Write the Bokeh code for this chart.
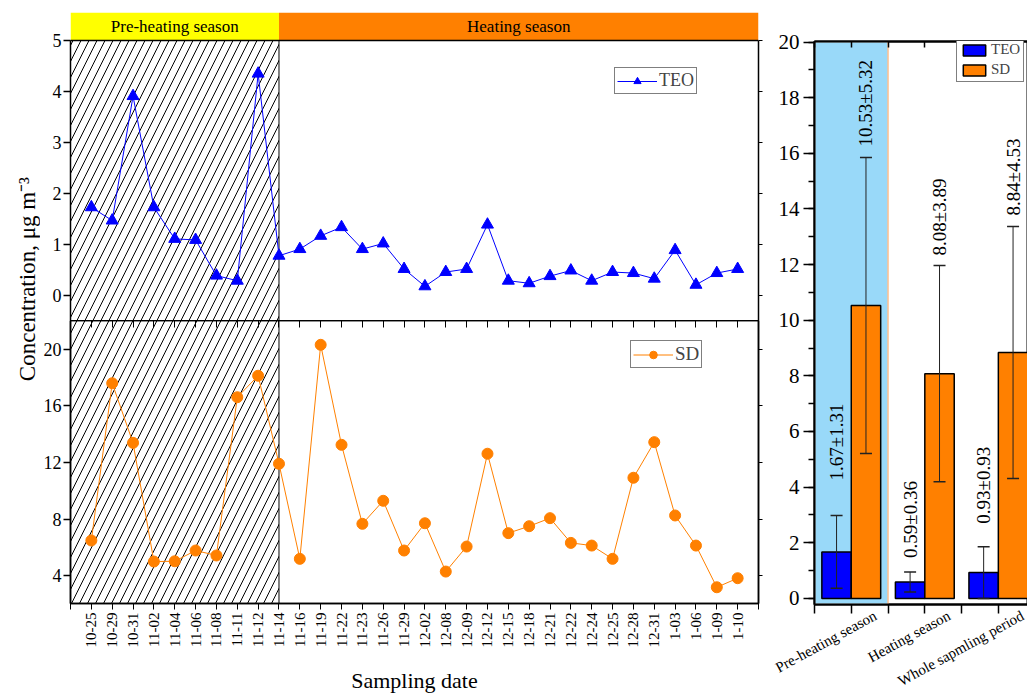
import math
from bokeh.plotting import figure
from bokeh.models import (ColumnDataSource, FixedTicker, Legend, LegendItem, Range1d,
                          LinearAxis, Whisker, TeeHead, SingleIntervalTicker, Span)
from bokeh.layouts import row, column
from bokeh.core.properties import value
from bokeh.embed import file_html
from bokeh.resources import INLINE

FONT = "Liberation Serif"

# ---------------- data ----------------
dates = ["10-25", "10-29", "10-31", "11-02", "11-04", "11-06", "11-08", "11-11", "11-12", "11-14",
         "11-16", "11-19", "11-22", "11-23", "11-26", "11-29", "12-02", "12-08", "12-09", "12-12",
         "12-15", "12-18", "12-21", "12-22", "12-24", "12-25", "12-28", "12-31", "1-03", "1-06",
         "1-09", "1-10"]
teo = [1.73, 1.47, 3.91, 1.73, 1.11, 1.09, 0.39, 0.29, 4.35, 0.78,
       0.91, 1.17, 1.34, 0.91, 1.02, 0.52, 0.18, 0.46, 0.52, 1.39,
       0.29, 0.24, 0.38, 0.49, 0.29, 0.46, 0.44, 0.33, 0.89, 0.21,
       0.44, 0.52]
sd = [6.48, 17.61, 13.39, 4.99, 5.01, 5.77, 5.42, 16.62, 18.14, 11.91,
      5.18, 20.33, 13.25, 7.66, 9.29, 5.77, 7.70, 4.28, 6.05, 12.62,
      7.00, 7.49, 8.06, 6.31, 6.12, 5.18, 10.92, 13.44, 8.25, 6.12,
      3.17, 3.81]
n_pre = 10  # samples in pre-heating season (10-25 .. 11-14)
season_names = ["Pre-heating season", "Heating season"]

periods = ["Pre-heating season", "Heating season", "Whole sapmling period"]
teo_mean = [1.67, 0.59, 0.93]
teo_std = [1.31, 0.36, 0.93]
sd_mean = [10.53, 8.08, 8.84]
sd_std = [5.32, 3.89, 4.53]

teo_ticks = [0, 1, 2, 3, 4, 5]
sd_ticks = [4, 8, 12, 16, 20]

# ---------------- styles ----------------
BLUE = "#0000FF"
ORANGE = "#FF8000"
YELLOW = "#FFFF00"
SKY = "#99D9F9"
label_gap_teo = [35, 14, 23]
label_gap_sd = [11, 10, 11]

idx = list(range(len(dates)))
X0, X1 = -1, len(dates)
boundary = n_pre - 1
FW = 688
BL, BR = 29, 8
HATCH = 16


def blank(ticks):
    return {t: "" for t in ticks}


def base_fig(**kw):
    p = figure(toolbar_location=None, output_backend="svg", **kw)
    p.xgrid.visible = False
    p.ygrid.visible = False
    p.background_fill_color = "white"
    p.border_fill_color = "white"
    return p


def style_left(ax, ticks, lo, hi):
    ax.ticker = FixedTicker(ticks=ticks)
    ax.bounds = (lo, hi)
    ax.major_tick_out = 7
    ax.major_tick_in = 0
    ax.minor_tick_out = 0
    ax.minor_tick_in = 0
    ax.major_label_text_font = FONT
    ax.major_label_text_font_size = "18px"
    ax.major_label_text_color = "black"
    ax.major_label_standoff = 2
    ax.axis_line_width = 1.5
    ax.major_tick_line_width = 1.5


xr = Range1d(X0, X1)
all_x_ticks = list(range(X0, X1 + 1))

# ---------------- y label column ----------------
lab = base_fig(width=40, height=693, x_range=Range1d(0, 40), y_range=Range1d(0, 693),
               min_border=0, x_axis_location=None, y_axis_location=None, outline_line_color=None)
lab.text(x=[27], y=[401], text=["Concentration,  \u03bcg m\u207b\u00b3"], angle=math.pi / 2,
         text_align="center", text_baseline="middle", text_font=value(FONT),
         text_font_size="23px", text_color="black")

# ---------------- top panel (TEO) with season header ----------------
TY0, TY1 = -0.49, 5
HTOP = TY1 + 28 / 51.0  # header band height above the plot area
top = base_fig(frame_width=FW, frame_height=308, x_range=xr, y_range=Range1d(TY0, HTOP),
               min_border_left=BL, min_border_right=BR, min_border_top=12, min_border_bottom=0,
               x_axis_location=None, y_axis_location="left", outline_line_color=None)
top.quad(left=[X0, boundary], right=[boundary, X1], bottom=TY1, top=HTOP,
         fill_color=[YELLOW, ORANGE], line_color=None)
top.text(x=[(X0 + boundary) / 2, (boundary + X1) / 2], y=[(TY1 + HTOP) / 2] * 2, text=season_names,
         text_align="center", text_baseline="middle", text_font=value(FONT),
         text_font_size="17px", text_color="black")
top.quad(left=[X0], right=[boundary], bottom=[TY0], top=[TY1], fill_alpha=0,
         hatch_pattern="/", hatch_color="black", hatch_scale=HATCH, hatch_weight=1,
         line_color="black", line_width=1)
top.add_layout(Span(location=TY1, dimension="width", line_color="black", line_width=1.5))
tl = top.line(idx, teo, line_color=BLUE, line_width=1)
ts = top.scatter(idx, teo, marker="triangle", size=12, fill_color=BLUE, line_color=BLUE)

style_left(top.yaxis[0], teo_ticks, TY0, TY1)
ra = LinearAxis(ticker=FixedTicker(ticks=teo_ticks), major_label_overrides=blank(teo_ticks),
                bounds=(TY0, TY1), major_tick_out=4, major_tick_in=0, minor_tick_out=0,
                minor_tick_in=0, major_label_standoff=0, axis_line_width=1.5)
top.add_layout(ra, "right")

leg1 = Legend(items=[LegendItem(label="TEO", renderers=[tl, ts])], location=(544, 226),
              border_line_color="black", border_line_width=1, padding=2, margin=0,
              label_text_font=FONT, label_text_font_size="18px", glyph_width=40,
              glyph_height=18, label_height=18, label_standoff=2, spacing=0,
              background_fill_alpha=1)
top.add_layout(leg1)

# ---------------- bottom panel (SD) ----------------
BY0, BY1 = 2.02, 22.05
bot = base_fig(frame_width=FW, frame_height=283, x_range=xr, y_range=Range1d(BY0, BY1),
               min_border_left=BL, min_border_right=BR, min_border_top=0, min_border_bottom=90,
               x_axis_location="below", y_axis_location="left",
               outline_line_color="black", outline_line_width=1.5)
bot.quad(left=[X0], right=[boundary], bottom=[BY0], top=[BY1], fill_alpha=0,
         hatch_pattern="/", hatch_color="black", hatch_scale=HATCH, hatch_weight=1,
         line_color="black", line_width=1)
bl = bot.line(idx, sd, line_color=ORANGE, line_width=1)
bs = bot.scatter(idx, sd, marker="circle", size=11, fill_color=ORANGE, line_color=ORANGE)

style_left(bot.yaxis[0], sd_ticks, BY0, BY1)

xa = bot.xaxis[0]
xa.ticker = FixedTicker(ticks=all_x_ticks)
overrides = {t: "" for t in all_x_ticks}
for i, d in enumerate(dates):
    overrides[i] = d
xa.major_label_overrides = overrides
xa.major_label_orientation = math.pi / 2
xa.major_label_text_font = FONT
xa.major_label_text_font_size = "15px"
xa.major_label_text_color = "black"
xa.major_label_standoff = 3
xa.major_tick_out = 6
xa.major_tick_in = 0
xa.minor_tick_out = 0
xa.minor_tick_in = 0
xa.axis_line_width = 1.5
xa.axis_label = "Sampling date"
xa.axis_label_text_font = FONT
xa.axis_label_text_font_size = "22px"
xa.axis_label_text_font_style = "normal"
xa.axis_label_text_color = "black"
xa.axis_label_standoff = 18

ra2 = LinearAxis(ticker=FixedTicker(ticks=sd_ticks), major_label_overrides=blank(sd_ticks),
                 major_tick_out=4, major_tick_in=0, minor_tick_out=0, minor_tick_in=0,
                 major_label_standoff=0, axis_line_width=1.5)
bot.add_layout(ra2, "right")
aa2 = LinearAxis(ticker=FixedTicker(ticks=all_x_ticks), major_label_overrides=blank(all_x_ticks),
                 major_tick_out=0, major_tick_in=7, minor_tick_out=0, minor_tick_in=0,
                 major_label_standoff=0, axis_line_width=1.5)
bot.add_layout(aa2, "above")

leg2 = Legend(items=[LegendItem(label="SD", renderers=[bl, bs])], location=(560, 235),
              border_line_color="black", border_line_width=1, padding=2, margin=0,
              label_text_font=FONT, label_text_font_size="19px", glyph_width=40,
              glyph_height=19, label_height=19, label_standoff=2, spacing=0,
              background_fill_alpha=1)
bot.add_layout(leg2)

# ---------------- right panel (means) ----------------
centers = [1, 2, 3]
RX0, RX1 = 0.5, 3.41
RY0, RY1 = -0.22, 20.02
rf = base_fig(frame_width=214, frame_height=563, x_range=Range1d(RX0, RX1),
              y_range=Range1d(RY0, RY1), min_border_left=48, min_border_right=0,
              min_border_top=41, min_border_bottom=89, x_axis_location=None,
              y_axis_location="left", outline_line_color="black", outline_line_width=2)
rf.quad(left=[centers[0] - 0.5], right=[centers[0] + 0.5], bottom=[RY0], top=[RY1],
        fill_color=SKY, line_color="#FFC090", line_width=1.5)

teo_x = [c - 0.2 for c in centers]
sd_x = [c + 0.2 for c in centers]
vb1 = rf.vbar(x=teo_x, top=teo_mean, bottom=0, width=0.4, fill_color=BLUE,
              line_color="black", line_width=1.5)
vb2 = rf.vbar(x=sd_x, top=sd_mean, bottom=0, width=0.4, fill_color=ORANGE,
              line_color="black", line_width=1.5)

for xs, ms, ss in [(teo_x, teo_mean, teo_std), (sd_x, sd_mean, sd_std)]:
    src = ColumnDataSource(dict(base=xs, lower=[m - s for m, s in zip(ms, ss)],
                                upper=[m + s for m, s in zip(ms, ss)]))
    w = Whisker(source=src, base="base", lower="lower", upper="upper", level="overlay",
                line_color="#222222", line_width=1,
                upper_head=TeeHead(size=12, line_color="#222222", line_width=1.5),
                lower_head=TeeHead(size=12, line_color="#222222", line_width=1.5))
    rf.add_layout(w)

for xs, ms, ss, gaps in [(teo_x, teo_mean, teo_std, label_gap_teo),
                         (sd_x, sd_mean, sd_std, label_gap_sd)]:
    src = ColumnDataSource(dict(x=xs, y=[m + s for m, s in zip(ms, ss)],
                                t=["%.2f\u00b1%.2f" % (m, s) for m, s in zip(ms, ss)],
                                off=[-g for g in gaps]))
    rf.text(x="x", y="y", text="t", y_offset="off", source=src, angle=math.pi / 2,
            text_align="left", text_baseline="middle", text_font=value(FONT),
            text_font_size="19px", text_color="black")

ya = rf.yaxis[0]
ya.ticker = SingleIntervalTicker(interval=2, num_minor_ticks=2)
ya.major_tick_out = 11
ya.major_tick_in = 0
ya.minor_tick_out = 6
ya.minor_tick_in = 0
ya.major_label_text_font = FONT
ya.major_label_text_font_size = "21px"
ya.major_label_text_color = "black"
ya.major_label_standoff = 4
ya.axis_line_width = 2
ya.major_tick_line_width = 1.5
ya.minor_tick_line_width = 1.5

cat_tick_marks = [0.5, 1, 1.5, 2, 2.5, 3]
cat_label_pos = [c + 0.33 for c in centers]
xb = LinearAxis(ticker=FixedTicker(ticks=cat_label_pos, minor_ticks=cat_tick_marks),
                major_label_overrides={p: n for p, n in zip(cat_label_pos, periods)},
                major_label_orientation=0.5, major_label_text_font=FONT,
                major_label_text_font_size="15px", major_label_text_color="black",
                major_label_standoff=1, major_tick_out=0, major_tick_in=0,
                minor_tick_out=9, minor_tick_in=0, minor_tick_line_width=1.5,
                axis_line_width=2)
rf.add_layout(xb, "below")
xt = LinearAxis(ticker=FixedTicker(ticks=cat_tick_marks), major_label_overrides=blank(cat_tick_marks),
                major_tick_out=0, major_tick_in=6, minor_tick_out=0, minor_tick_in=0,
                major_label_standoff=0, axis_line_width=2, major_tick_line_width=1.5)
rf.add_layout(xt, "above")

leg3 = Legend(items=[LegendItem(label="TEO", renderers=[vb1]), LegendItem(label="SD", renderers=[vb2])],
              location=(142, 522), border_line_color="black", border_line_width=1, padding=3,
              margin=0, label_text_font=FONT, label_text_font_size="15px", glyph_width=28,
              glyph_height=14, label_height=15, label_standoff=3, spacing=3,
              background_fill_alpha=1)
rf.add_layout(leg3)

layout = row(lab, column(top, bot), rf)
open("out.html", "w").write(file_html(layout, INLINE))
